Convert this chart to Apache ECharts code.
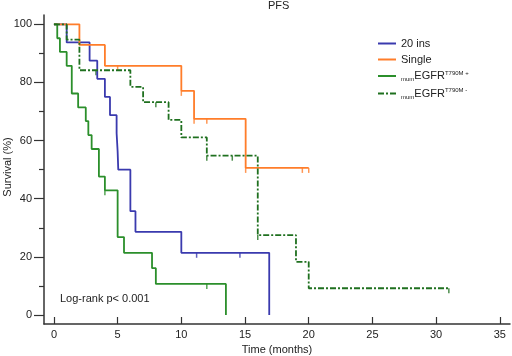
<!DOCTYPE html>
<html>
<head>
<meta charset="utf-8">
<script src="https://cdn.jsdelivr.net/npm/echarts@6/dist/echarts.min.js"></script>
<style>
  html, body { margin: 0; padding: 0; background: #fff; }
  #chart { width: 512px; height: 356px; }
</style>
</head>
<body>
<div id="chart"></div>
<script>
// survival step data (time in months, survival %)
const ins20Time = [0, 1.0, 2.8, 3.4, 4.0, 4.4, 4.92, 5.0, 5.05, 6.0, 6.4, 10.0, 16.9, 16.9]
const ins20Surv = [100, 93.75, 87.5, 81.25, 75, 68.75, 62.5, 56.25, 50, 35.7, 28.6, 21.4, 21.4, 0]
const ins20Cens = [11.2, 14.6]

const singleTime = [0, 2.0, 4.0, 10.0, 11.0, 15.05, 20.0]
const singleSurv = [100, 92.9, 85.7, 77.1, 67.5, 50.6, 50.6]
const singleCens = [5.0, 10.0, 11.0, 12.0, 15.05, 19.5, 20.0]

const posTime = [0, 0.26, 0.47, 1.0, 1.4, 1.9, 2.5, 2.7, 2.96, 3.53, 4.0, 5.0, 5.5, 7.7, 8.0, 13.5, 13.5]
const posSurv = [100, 95.2, 90.5, 85.7, 76.2, 71.4, 66.7, 61.9, 57.1, 47.6, 42.9, 26.8, 21.4, 16.1, 10.7, 10.7, 0]
const posCens = [4.0, 12.0]

const negTime = [0, 1.0, 2.0, 6.0, 7.0, 9.0, 10.0, 12.0, 16.0, 19.0, 20.0, 31.0]
const negSurv = [100, 94.7, 84.2, 78.5, 73.2, 67.1, 61.1, 54.8, 27.5, 18.3, 9.2, 9.2]
const negCens = [3.3, 8.0, 12.0, 14.0, 16.0, 31.0]

const xTicks = [0, 5, 10, 15, 20, 25, 30, 35]
const yTicks = [0, 20, 40, 60, 80, 100]
const yMinorTicks = [10, 30, 50, 70, 90]

const names = ['20 ins', 'Single', 'mumEGFR T790M +', 'mumEGFR T790M -']
const colors = ['#3a3aae', '#ff7d2a', '#2b8f2b', '#1f701f']

function pairs(t, s) {
  return t.map((v, i) => [v, s[i]])
}
// survival value at time t (after any drop at t)
function survAt(t, times, surv) {
  let v = surv[0]
  for (let i = 0; i < times.length; i++) {
    if (times[i] <= t) v = surv[i]
  }
  return v
}
function censPts(c, times, surv) {
  return c.map(t => [t, survAt(t, times, surv)])
}

const curves = [
  { t: ins20Time, s: ins20Surv, c: ins20Cens },
  { t: singleTime, s: singleSurv, c: singleCens },
  { t: posTime, s: posSurv, c: posCens },
  { t: negTime, s: negSurv, c: negCens }
]

const series = []
curves.forEach((cv, i) => {
  series.push({
    name: names[i],
    type: 'line',
    step: 'end',
    symbol: 'none',
    data: pairs(cv.t, cv.s),
    lineStyle: {
      color: colors[i],
      width: 1.8,
      type: i === 3 ? [6, 2, 2, 2] : 'solid'
    },
    itemStyle: { color: colors[i] }
  })
  series.push({
    name: 'cens' + i,
    type: 'scatter',
    symbol: 'rect',
    symbolSize: [1.5, 5],
    symbolOffset: [0, 2.5],
    itemStyle: { color: colors[i] },
    data: censPts(cv.c, cv.t, cv.s)
  })
})

const font = 'Liberation Sans, Arial, sans-serif'

const chart = echarts.init(document.getElementById('chart'))
const option = {
  animation: false,
  textStyle: { fontFamily: font },
  title: {
    text: 'PFS',
    left: 268,
    top: 0,
    padding: 0,
    textStyle: { fontSize: 11, fontWeight: 'normal', color: '#222', fontFamily: font }
  },
  grid: { left: 44, right: 2, top: 15, bottom: 32, containLabel: false, outerBoundsMode: 'none' },
  legend: {
    data: names,
    orient: 'vertical',
    left: 377,
    top: 38,
    padding: 0,
    itemWidth: 18,
    itemHeight: 10,
    itemGap: 5,
    itemStyle: { opacity: 0 },
    formatter: function (name) {
      if (name.indexOf('mum') === 0) {
        return '{sub|mum}{b|EGFR}{sup|' + name.slice(8) + '}'
      }
      return '{b|' + name + '}'
    },
    textStyle: {
      color: '#222',
      fontFamily: font,
      rich: {
        b: { fontSize: 11, color: '#222', fontFamily: font },
        sub: { fontSize: 6, color: '#222', fontFamily: font, padding: [7, 0, 0, 0] },
        sup: { fontSize: 6, color: '#222', fontFamily: font, padding: [0, 0, 6, 0] }
      }
    }
  },
  xAxis: {
    type: 'value',
    min: -0.78,
    max: 35.8,
    name: 'Time (months)',
    nameLocation: 'middle',
    nameGap: 19,
    nameTextStyle: { fontSize: 11, color: '#222', fontFamily: font },
    splitLine: { show: false },
    axisLine: { onZero: false, lineStyle: { color: '#333', width: 1.5 } },
    axisTick: { customValues: xTicks, inside: true, length: 7, lineStyle: { color: '#333', width: 1.2 } },
    axisLabel: { customValues: xTicks, margin: 5, fontSize: 11, color: '#222', fontFamily: font }
  },
  yAxis: [
    {
      type: 'value',
      min: -3.1,
      max: 103.2,
      splitLine: { show: false },
      axisLine: { show: true, onZero: false, lineStyle: { color: '#333', width: 1.5 } },
      axisTick: { customValues: yTicks, length: 10, lineStyle: { color: '#333', width: 1.2 } },
      axisLabel: { customValues: yTicks, margin: 12, fontSize: 11, color: '#222', fontFamily: font }
    },
    {
      type: 'value',
      position: 'left',
      min: -3.1,
      max: 103.2,
      splitLine: { show: false },
      axisLine: { show: false, onZero: false },
      axisTick: { customValues: yMinorTicks, length: 5, lineStyle: { color: '#333', width: 1.2 } },
      axisLabel: { show: false }
    }
  ],
  graphic: [
    {
      type: 'text',
      x: 8,
      y: 167,
      rotation: Math.PI / 2,
      style: {
        text: 'Survival (%)', fontSize: 11, fill: '#222', fontFamily: font,
        align: 'center', verticalAlign: 'middle'
      }
    },
    {
      type: 'text',
      left: 60,
      top: 293,
      style: { text: 'Log-rank p< 0.001', fontSize: 11, fill: '#222', fontFamily: font }
    }
  ],
  series: series
}
chart.setOption(option)
</script>
</body>
</html>
